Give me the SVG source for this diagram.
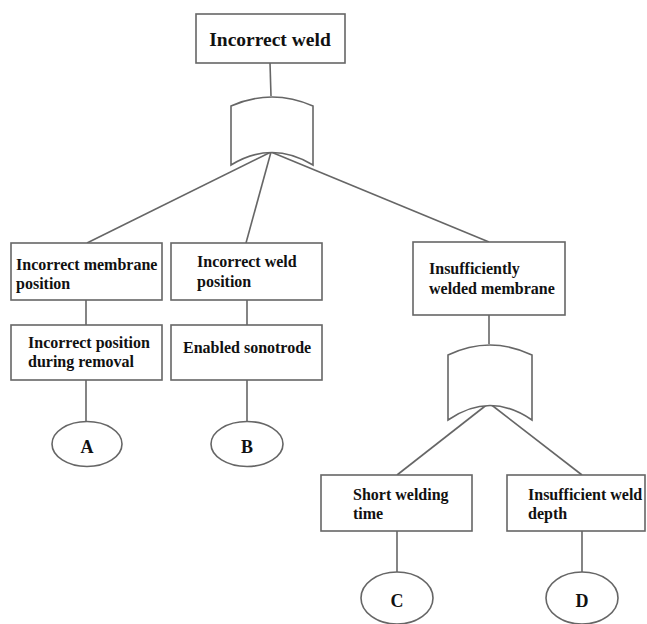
<svg xmlns="http://www.w3.org/2000/svg" width="647" height="624" viewBox="0 0 647 624">
<style>
.box{fill:#fff;stroke:#666;stroke-width:1.6}
.gate{fill:#fff;stroke:#666;stroke-width:1.6}
.ln{stroke:#666;stroke-width:1.6;fill:none}
.t{font-family:"Liberation Serif",serif;font-weight:bold;font-size:16px;fill:#111}
.big{font-size:19.5px}
.lt{font-size:18px}
</style>
<rect width="647" height="624" fill="#fff"/>
<g id="connectors">
<line class="ln" x1="270" y1="63" x2="271" y2="96"/>
<line class="ln" x1="271" y1="152" x2="87" y2="243"/>
<line class="ln" x1="271" y1="152" x2="246" y2="243"/>
<line class="ln" x1="271" y1="152" x2="489" y2="242"/>
<line class="ln" x1="86" y1="300" x2="86" y2="325"/>
<line class="ln" x1="247" y1="300" x2="247" y2="325"/>
<line class="ln" x1="86" y1="380" x2="86" y2="422"/>
<line class="ln" x1="247" y1="380" x2="247" y2="422"/>
<line class="ln" x1="489" y1="315" x2="489" y2="344"/>
<line class="ln" x1="489" y1="403" x2="397" y2="475"/>
<line class="ln" x1="489" y1="403" x2="582" y2="475"/>
<line class="ln" x1="397" y1="531" x2="397" y2="572"/>
<line class="ln" x1="582" y1="531" x2="582" y2="572"/>
</g>
<g id="top">
<rect class="box" x="196" y="14" width="149" height="49"/>
<text class="t big" x="270" y="46" text-anchor="middle">Incorrect weld</text>
</g>
<g id="gate1">
<path class="gate" d="M231,165 L231,106 Q272,88 313,106 L313,165 Q272,140 231,165 Z"/>
</g>
<g id="membrane-position">
<rect class="box" x="11" y="243" width="151" height="57"/>
<text class="t" x="16" y="270">Incorrect membrane</text>
<text class="t" x="16" y="289">position</text>
</g>
<g id="weld-position">
<rect class="box" x="171" y="243" width="151" height="57"/>
<text class="t" x="197" y="267">Incorrect weld</text>
<text class="t" x="197" y="287">position</text>
</g>
<g id="insufficiently-welded">
<rect class="box" x="413" y="242" width="152" height="73"/>
<text class="t" x="429" y="274">Insufficiently</text>
<text class="t" x="429" y="294">welded membrane</text>
</g>
<g id="position-removal">
<rect class="box" x="11" y="325" width="151" height="55"/>
<text class="t" x="28" y="348">Incorrect position</text>
<text class="t" x="28" y="367">during removal</text>
</g>
<g id="sonotrode">
<rect class="box" x="171" y="325" width="151" height="55"/>
<text class="t" x="183" y="353">Enabled sonotrode</text>
</g>
<g id="gate2">
<path class="gate" d="M448,420 L448,355 Q490,335 532,355 L532,420 Q490,391 448,420 Z"/>
</g>
<g id="short-time">
<rect class="box" x="321" y="475" width="151" height="56"/>
<text class="t" x="353" y="500">Short welding</text>
<text class="t" x="353" y="519">time</text>
</g>
<g id="weld-depth">
<rect class="box" x="507" y="475" width="138" height="56"/>
<text class="t" x="528" y="500">Insufficient weld</text>
<text class="t" x="528" y="519">depth</text>
</g>
<g id="A">
<ellipse class="box" cx="87" cy="444" rx="35" ry="22.5"/>
<text class="t lt" x="87" y="453" text-anchor="middle">A</text>
</g>
<g id="B">
<ellipse class="box" cx="247" cy="444" rx="36" ry="22.5"/>
<text class="t lt" x="247" y="453" text-anchor="middle">B</text>
</g>
<g id="C">
<ellipse class="box" cx="397" cy="598" rx="36" ry="26"/>
<text class="t lt" x="397" y="607" text-anchor="middle">C</text>
</g>
<g id="D">
<ellipse class="box" cx="582" cy="598" rx="36" ry="26"/>
<text class="t lt" x="582" y="607" text-anchor="middle">D</text>
</g>
</svg>
